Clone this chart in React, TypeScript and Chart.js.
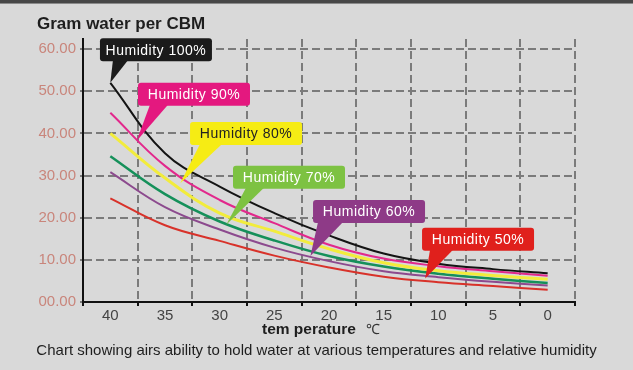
import React, { useEffect, useRef } from 'react';
import { Chart, registerables } from 'chart.js';

Chart.register(...registerables);

// ---- data ----
const TEMPERATURES = [40, 35, 30, 25, 20, 15, 10, 5, 0];
const X_TICKS = [40, 35, 30, 25, 20, 15, 10, 5, 0];
const Y_TICKS = [0, 10, 20, 30, 40, 50, 60];

const HUMIDITY_100 = [52.0, 35.3, 27.4, 21.1, 15.8, 11.5, 9.1, 7.8, 6.8];
const HUMIDITY_90 = [44.9, 32.3, 24.2, 18.7, 13.6, 10.3, 8.5, 7.3, 6.2];
const HUMIDITY_80 = [40.0, 29.4, 21.1, 16.8, 12.6, 9.3, 7.4, 6.3, 5.4];
const HUMIDITY_70 = [34.6, 25.6, 19.1, 14.6, 10.9, 8.4, 6.7, 5.5, 4.5];
const HUMIDITY_60 = [30.8, 22.5, 17.2, 12.9, 9.7, 7.3, 5.9, 4.8, 3.9];
const HUMIDITY_50 = [24.6, 18.2, 14.5, 11.0, 8.2, 6.0, 4.7, 3.8, 2.9];

const SERIES_LABELS = ['Humidity 100%', 'Humidity 90%', 'Humidity 80%', 'Humidity 70%', 'Humidity 60%', 'Humidity 50%'];
const SERIES_VALUES = [HUMIDITY_100, HUMIDITY_90, HUMIDITY_80, HUMIDITY_70, HUMIDITY_60, HUMIDITY_50];

// ---- styles ----
const LINE_COLORS = ['#141414', '#e2288c', '#f2ec3c', '#15905a', '#8c4a8e', '#d8322a'];
const LINE_WIDTHS = [2, 2, 3, 2.5, 2, 2];
const BOX_COLORS = ['#1b1b1b', '#e4187f', '#f6ec14', '#7dc242', '#8e3a87', '#e0201c'];
const BOX_TEXT = ['#ffffff', '#ffffff', '#222222', '#ffffff', '#ffffff', '#ffffff'];

// callout placement: tip (data coords on the curve), box top-left (data coords), pointer base offsets (px from box left)
const CALLOUTS = [
  { tipT: 40, tipV: 52, boxT: 40.95, boxV: 62.6, base: [13, 28] },
  { tipT: 37.6, tipV: 38.2, boxT: 37.47, boxV: 52.0, base: [12, 30] },
  { tipT: 33.6, tipV: 28.2, boxT: 32.71, boxV: 42.7, base: [10, 32] },
  { tipT: 29.4, tipV: 18.3, boxT: 28.78, boxV: 32.3, base: [13, 31] },
  { tipT: 21.7, tipV: 10.9, boxT: 21.46, boxV: 24.2, base: [5, 30] },
  { tipT: 11.2, tipV: 5.6, boxT: 11.49, boxV: 17.6, base: [8, 31] },
];
const BOX_W = 112;
const BOX_H = 23;

const FONT = '"Liberation Sans", Arial, sans-serif';

const calloutPlugin = {
  id: 'callouts',
  afterDatasetsDraw(chart: any) {
    const { ctx } = chart;
    const xs = chart.scales.x;
    const ys = chart.scales.y;
    ctx.save();
    CALLOUTS.forEach((c, i) => {
      const tx = xs.getPixelForValue(c.tipT);
      const ty = ys.getPixelForValue(c.tipV);
      const bx = xs.getPixelForValue(c.boxT);
      const by = ys.getPixelForValue(c.boxV);
      ctx.fillStyle = BOX_COLORS[i];
      ctx.beginPath();
      ctx.moveTo(bx + c.base[0], by + BOX_H - 1);
      ctx.lineTo(tx, ty);
      ctx.lineTo(bx + c.base[1], by + BOX_H - 1);
      ctx.closePath();
      ctx.fill();
      ctx.beginPath();
      ctx.roundRect(bx, by, BOX_W, BOX_H, 3);
      ctx.fill();
      ctx.fillStyle = BOX_TEXT[i];
      ctx.font = `14px ${FONT}`;
      (ctx as any).letterSpacing = '0.5px';
      ctx.textAlign = 'center';
      ctx.textBaseline = 'middle';
      ctx.fillText(SERIES_LABELS[i], bx + BOX_W / 2, by + BOX_H / 2 + 1);
    });
    ctx.restore();
  },
};

const textPlugin = {
  id: 'texts',
  afterDraw(chart: any) {
    const { ctx } = chart;
    ctx.save();
    ctx.fillStyle = '#1e1e1e';
    ctx.textBaseline = 'alphabetic';
    ctx.textAlign = 'left';
    ctx.font = `bold 17px ${FONT}`;
    ctx.fillText('Gram water per CBM', 37, 29);

    ctx.font = `bold 15.5px ${FONT}`;
    ctx.fillText('tem perature', 262, 334);
    ctx.font = `14px ${FONT}`;
    ctx.fillStyle = '#333';
    ctx.fillText('℃', 366, 334);

    ctx.fillStyle = '#1e1e1e';
    ctx.font = `15px "Liberation Sans Narrow", ${FONT}`;
    ctx.textAlign = 'center';
    ctx.fillText('Chart showing airs ability to hold water at various temperatures and relative humidity', 316.5, 355, 563);
    ctx.restore();
  },
};

export default function App() {
  const ref = useRef<HTMLCanvasElement>(null);
  useEffect(() => {
    document.body.style.margin = '0';
    const canvas = ref.current!;
    const chart = new Chart(canvas, {
      type: 'line',
      data: {
        datasets: SERIES_VALUES.map((vals, i) => ({
          label: SERIES_LABELS[i],
          data: TEMPERATURES.map((t, j) => ({ x: t, y: vals[j] })),
          borderColor: LINE_COLORS[i],
          borderWidth: LINE_WIDTHS[i],
          pointRadius: 0,
          tension: 0.4,
          fill: false,
        })),
      },
      options: {
        responsive: false,
        animation: false,
        layout: { padding: { top: 39, right: 58, left: 0, bottom: 0 } },
        plugins: { legend: { display: false }, tooltip: { enabled: false } },
        scales: {
          x: {
            type: 'linear',
            reverse: true,
            min: -2.5,
            max: 42.5,
            afterBuildTicks: (s: any) => {
              s.ticks = X_TICKS.map((v) => ({ value: v }));
            },
            afterFit: (s: any) => {
              s.height = 68;
            },
            ticks: {
              autoSkip: false,
              maxRotation: 0,
              color: '#444',
              font: { family: FONT, size: 15 },
              padding: 1,
              callback: (v: any) => String(v),
            },
            grid: { offset: true, color: '#7b7b7b', lineWidth: 2, tickColor: '#111', tickLength: 4, tickWidth: 2 },
            border: { display: true, color: '#111', width: 2, dash: [8, 4] },
          },
          y: {
            min: 0,
            max: 62.4,
            afterBuildTicks: (s: any) => {
              s.ticks = Y_TICKS.map((v) => ({ value: v }));
            },
            afterFit: (s: any) => {
              s.width = 83;
            },
            ticks: {
              color: '#c9857b',
              font: { family: FONT, size: 15 },
              padding: 4,
              callback: (v: any) => Number(v).toFixed(2).padStart(5, '0'),
            },
            grid: { color: '#7b7b7b', lineWidth: 2, tickColor: '#7b7b7b', tickLength: 3, tickWidth: 2 },
            border: { display: true, color: '#111', width: 2, dash: [8, 4] },
          },
        },
      },
      plugins: [calloutPlugin, textPlugin],
    } as any);
    return () => chart.destroy();
  }, []);

  return (
    <div style={{ position: 'relative', width: 633, height: 370, background: '#d9d9d9', overflow: 'hidden' }}>
      <div style={{ position: 'absolute', left: 0, top: 0, width: 633, height: 3, background: '#474747' }} />
      <div style={{ position: 'absolute', left: 0, top: 3, width: 633, height: 1, background: '#8a8a8a' }} />
      <canvas ref={ref} width={633} height={370} style={{ display: 'block' }} />
    </div>
  );
}
